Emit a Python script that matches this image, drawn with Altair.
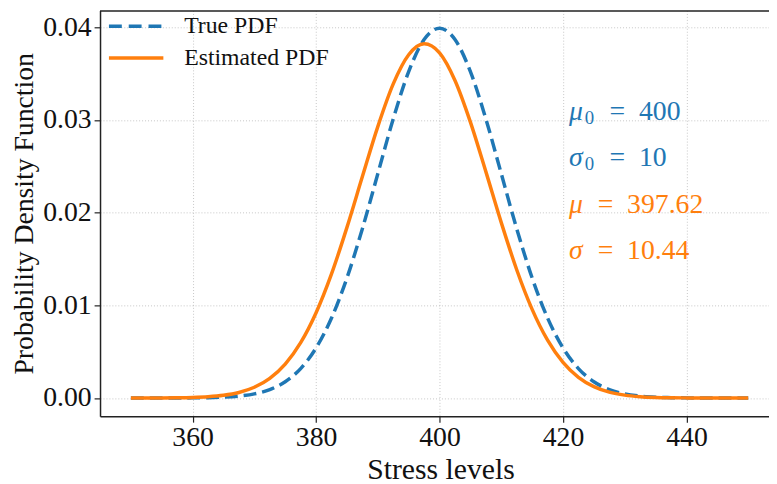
import altair as alt
import pandas as pd

# ---- data ----
stress = [350, 352.5, 355, 357.5, 360, 362.5, 365, 367.5, 370, 372.5,
          375, 377.5, 380, 382.5, 385, 387.5, 390, 392.5, 395, 397.5,
          400, 402.5, 405, 407.5, 410, 412.5, 415, 417.5, 420, 422.5,
          425, 427.5, 430, 432.5, 435, 437.5, 440, 442.5, 445, 447.5, 450]

true_pdf = [0.0000001, 0.0000005, 0.0000016, 0.0000048, 0.0000134, 0.0000353,
            0.0000873, 0.000203, 0.000443, 0.000909, 0.001753, 0.003175,
            0.005399, 0.008628, 0.012952, 0.018265, 0.024197, 0.030114,
            0.035207, 0.038667, 0.039894, 0.038667, 0.035207, 0.030114,
            0.024197, 0.018265, 0.012952, 0.008628, 0.005399, 0.003175,
            0.001753, 0.000909, 0.000443, 0.000203, 0.0000873, 0.0000353,
            0.0000134, 0.0000048, 0.0000016, 0.0000005, 0.0000001]

est_pdf = [0.0000012, 0.0000034, 0.0000092, 0.0000237, 0.0000579, 0.0001333,
           0.000290, 0.000595, 0.001154, 0.002114, 0.003655, 0.005966,
           0.009197, 0.013388, 0.018405, 0.023888, 0.029279, 0.033883,
           0.037029, 0.038211, 0.037233, 0.034259, 0.029765, 0.024420,
           0.018918, 0.013838, 0.009559, 0.006235, 0.003840, 0.002233,
           0.001226, 0.000636, 0.000311, 0.000144, 0.000063, 0.000026,
           0.0000100, 0.0000037, 0.0000013, 0.0000004, 0.0000001]

series_names = ["True PDF", "Estimated PDF"]
series_colors = ["#1f77b4", "#ff7f0e"]

ann_greek = ["μ", "σ", "μ", "σ"]
ann_sub = ["0", "0", "", ""]
ann_rhs = ["=\u2002400", "=\u200210", "=\u2002397.62", "=\u200210.44"]
ann_x = [420, 420, 420, 420]
ann_y = [0.030, 0.025, 0.020, 0.015]
ann_color = ["#1f77b4", "#1f77b4", "#ff7f0e", "#ff7f0e"]

x_ticks = [360, 380, 400, 420, 440]
y_ticks = [0.0, 0.01, 0.02, 0.03, 0.04]

FONT = "Liberation Serif"
W, H = 676, 410

df = pd.concat([
    pd.DataFrame({"x": stress, "y": true_pdf, "series": series_names[0]}),
    pd.DataFrame({"x": stress, "y": est_pdf, "series": series_names[1]}),
])
ann = pd.DataFrame({"x": ann_x, "y": ann_y, "greek": ann_greek, "sub": ann_sub,
                    "rhs": ann_rhs, "color": ann_color,
                    "hassub": [s != "" for s in ann_sub]})

xs = alt.Scale(domain=[345, 453.37], nice=False, zero=False)
ys = alt.Scale(domain=[-0.001966, 0.041805], nice=False, zero=False)

xenc = alt.X("x:Q", scale=xs, axis=alt.Axis(
    values=x_ticks, format="d", title="Stress levels", grid=True, titleFontSize=30,
    titleX=W / 2 + 6, titleAlign="center"))
yenc = alt.Y("y:Q", scale=ys, axis=alt.Axis(
    values=y_ticks, format=".2f", title="Probability Density Function", grid=True,
    titleFontSize=28))

base = alt.Chart(df)

true_line = base.transform_filter(alt.datum.series == series_names[0]).mark_line(
    color=series_colors[0], strokeWidth=3.5, strokeDash=[13, 6], interpolate="monotone"
).encode(x=xenc, y=yenc)

est_line = base.transform_filter(alt.datum.series == series_names[1]).mark_line(
    color=series_colors[1], strokeWidth=3.5, interpolate="monotone"
).encode(x=xenc, y=yenc)

ann_base = alt.Chart(ann)
axx = alt.X("x:Q", scale=xs)
ayy = alt.Y("y:Q", scale=ys)
colenc = alt.Color("color:N", scale=None, legend=None)

greek = ann_base.mark_text(font=FONT, fontSize=28, fontStyle="italic", align="left",
                           baseline="alphabetic", dx=6).encode(
    x=axx, y=ayy, text="greek:N", color=colenc)
sub = ann_base.transform_filter(alt.datum.hassub).mark_text(
    font=FONT, fontSize=19, align="left", baseline="alphabetic", dx=22, dy=4
).encode(x=axx, y=ayy, text="sub:N", color=colenc)
rhs1 = ann_base.transform_filter(alt.datum.hassub).mark_text(
    font=FONT, fontSize=28, align="left", baseline="alphabetic", dx=47
).encode(x=axx, y=ayy, text="rhs:N", color=colenc)
rhs2 = ann_base.transform_filter(~alt.datum.hassub).mark_text(
    font=FONT, fontSize=28, align="left", baseline="alphabetic", dx=35
).encode(x=axx, y=ayy, text="rhs:N", color=colenc)

# frame top border
top_border = alt.Chart(pd.DataFrame({"a": [0]})).mark_rule(color="#222222", strokeWidth=1.5).encode(
    x=alt.value(0), x2=alt.value(W), y=alt.value(0.5))

# manual legend
leg_df = pd.DataFrame({"name": series_names})
leg_true = alt.Chart(leg_df).transform_filter(alt.datum.name == series_names[0]).mark_rule(
    color=series_colors[0], strokeWidth=3.5, strokeDash=[13, 7]).encode(
    x=alt.value(9), x2=alt.value(64), y=alt.value(16))
leg_est = alt.Chart(leg_df).transform_filter(alt.datum.name == series_names[1]).mark_rule(
    color=series_colors[1], strokeWidth=3.5).encode(
    x=alt.value(9), x2=alt.value(64), y=alt.value(48))
leg_txt1 = alt.Chart(leg_df).transform_filter(alt.datum.name == series_names[0]).mark_text(
    font=FONT, fontSize=24, align="left", baseline="middle", color="#111111").encode(
    x=alt.value(85), y=alt.value(16), text="name:N")
leg_txt2 = alt.Chart(leg_df).transform_filter(alt.datum.name == series_names[1]).mark_text(
    font=FONT, fontSize=24, align="left", baseline="middle", color="#111111").encode(
    x=alt.value(85), y=alt.value(48), text="name:N")

chart = alt.layer(
    true_line, est_line, greek, sub, rhs1, rhs2, top_border,
    leg_true, leg_est, leg_txt1, leg_txt2
).properties(
    width=W, height=H,
    autosize=alt.AutoSizeParams(type="none"),
    padding={"left": 93, "top": 0, "right": 0, "bottom": 66},
).configure_view(stroke=None).configure_axis(
    labelFont=FONT, titleFont=FONT, labelFontSize=28,
    labelColor="#111111", titleColor="#111111", titleFontWeight="normal",
    domainColor="#222222", domainWidth=1.5, tickColor="#222222", tickWidth=1.2,
    tickSize=6, gridColor="#b8b8b8", gridDash=[1, 2], gridWidth=0.8,
).configure_axisX(labelPadding=2, titlePadding=3).configure_axisY(labelPadding=3, titlePadding=4)

chart.save("out.html", embed_options={"renderer": "svg", "actions": False})
